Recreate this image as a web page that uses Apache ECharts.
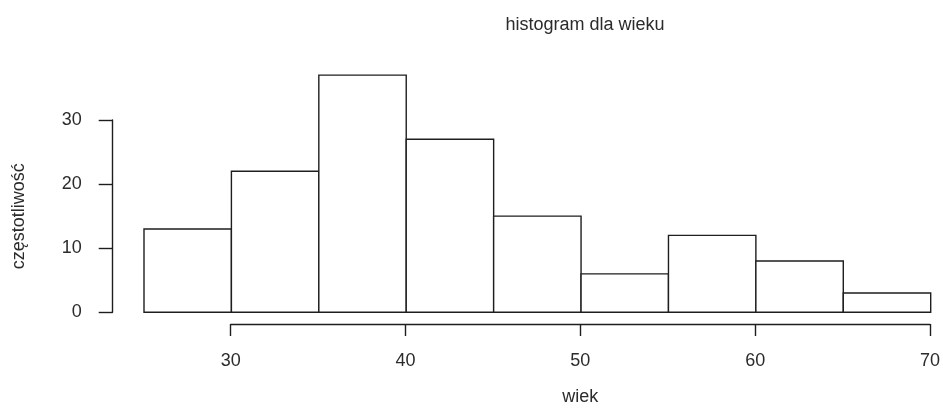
<!DOCTYPE html>
<html>
<head>
<meta charset="utf-8">
<script src="https://cdn.jsdelivr.net/npm/echarts@6/dist/echarts.min.js"></script>
<style>html,body{margin:0;padding:0;background:#fff}#c{width:943px;height:409px}</style>
</head>
<body>
<div id="c"></div>
<script>
// Data
const binStarts = [25, 30, 35, 40, 45, 50, 55, 60, 65];
const binEnds   = [30, 35, 40, 45, 50, 55, 60, 65, 70];
const counts    = [13, 22, 37, 27, 15, 6, 12, 8, 3];
const xTicks = [30, 40, 50, 60, 70];
const yTicks = [0, 10, 20, 30];
const titleText = 'histogram dla wieku';
const xName = 'wiek';
const yName = 'częstotliwość';

const FONT = '"Liberation Sans", Arial, sans-serif';
const FS = 18;
const TXT = '#2b2b2b';
const LINE = '#1e1e1e';

const chart = echarts.init(document.getElementById('c'), null, {renderer: 'canvas'});
const data = binStarts.map((s, i) => [s, binEnds[i], counts[i]]);

chart.setOption({
  animation: false,
  backgroundColor: '#fff',
  textStyle: {fontFamily: FONT},
  title: {
    text: titleText, left: 580, top: 11, textAlign: 'center',
    textStyle: {fontFamily: FONT, fontSize: FS, fontWeight: 'normal', color: TXT}
  },
  grid: [
    {left: 144, right: 12.3, top: 55.9, bottom: 96.7},
    {left: 112.7, width: 1, top: 120, bottom: 96.7},
    {left: 230.7, right: 12.3, bottom: 85, height: 1}
  ],
  xAxis: [
    {gridIndex: 0, type: 'value', min: binStarts[0], max: binEnds[binEnds.length - 1], show: false},
    {gridIndex: 1, type: 'value', min: 0, max: 1, show: false},
    {gridIndex: 2, type: 'value', min: xTicks[0], max: xTicks[xTicks.length - 1], interval: 10,
     position: 'bottom',
     name: xName, nameLocation: 'middle', nameGap: 64,
     nameTextStyle: {fontFamily: FONT, fontSize: FS, color: TXT},
     axisLine: {show: true, lineStyle: {color: LINE, width: 1.4}},
     axisTick: {show: true, length: 12, inside: false, lineStyle: {color: LINE, width: 1.4}},
     axisLabel: {show: true, margin: 28, fontFamily: FONT, fontSize: FS, color: TXT},
     splitLine: {show: false}}
  ],
  yAxis: [
    {gridIndex: 0, type: 'value', min: 0, max: 40, show: false},
    {gridIndex: 1, type: 'value', min: yTicks[0], max: yTicks[yTicks.length - 1], interval: 10,
     position: 'left',
     name: yName, nameLocation: 'middle', nameGap: 85, nameRotate: 90,
     nameTextStyle: {fontFamily: FONT, fontSize: FS, color: TXT},
     axisLine: {show: true, lineStyle: {color: LINE, width: 1.4}},
     axisTick: {show: true, length: 14, inside: false, lineStyle: {color: LINE, width: 1.4}},
     axisLabel: {show: true, margin: 31, fontFamily: FONT, fontSize: FS, color: TXT},
     splitLine: {show: false}},
    {gridIndex: 2, type: 'value', min: 0, max: 1, show: false}
  ],
  series: [{
    type: 'custom',
    xAxisIndex: 0, yAxisIndex: 0,
    data: data,
    clip: false,
    renderItem: function (params, api) {
      const x0 = api.value(0), x1 = api.value(1), c = api.value(2);
      const pTop = api.coord([x0, c]);
      const pBot = api.coord([x1, 0]);
      return {
        type: 'rect',
        shape: {x: pTop[0], y: pTop[1], width: pBot[0] - pTop[0], height: pBot[1] - pTop[1]},
        style: {fill: '#fff', stroke: LINE, lineWidth: 1.4}
      };
    }
  }]
});
</script>
</body>
</html>
